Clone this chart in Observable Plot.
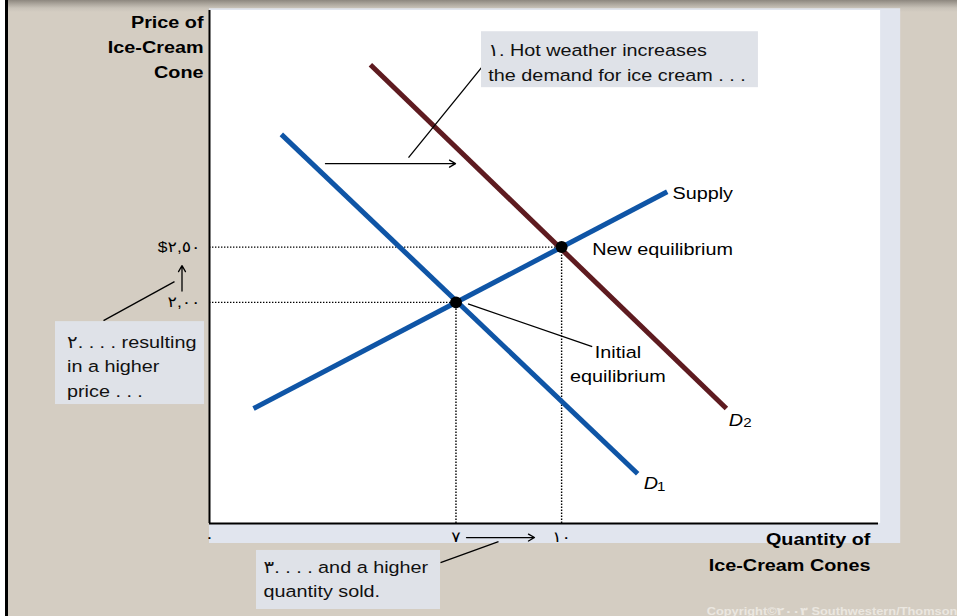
<!DOCTYPE html>
<html><head><meta charset="utf-8">
<script src="https://cdn.jsdelivr.net/npm/d3@7"></script>
<script src="https://cdn.jsdelivr.net/npm/@observablehq/plot@0.6"></script>
<style>
body{margin:0;background:#fff}
#wrap{position:relative;width:957px;height:616px;overflow:hidden;background:#fff}
#bg{position:absolute;left:5px;top:0;width:952px;height:616px;box-sizing:border-box;border-left:3px solid #000;
  background:linear-gradient(to bottom,#8d877f 0px,#aca69d 4px,#c8c2b8 8px,#d4cdc2 12px,#d4cdc2 100%)}
#chart{position:absolute;left:0;top:0}
</style></head><body>
<div id="wrap"><div id="bg"></div><div id="chart"></div></div>
<script>
// ---- data (quantity of cones, price in dollars) ----
const supplyQ = [1.25, 13.0];
const supplyP = [1.04, 3.0];
const demand1Q = [2.04, 12.16];
const demand1P = [3.52, 0.45];
const demand2Q = [4.57, 14.68];
const demand2P = [4.15, 1.04];
const equilibriumQ = [7, 10];
const equilibriumP = [2.0, 2.5];
const xTicks = [0, 7, 10];
const xTickLabels = ["٠", "٧", "١٠"];
const yTicks = [2.0, 2.5];
const yTickLabels = ["٢,٠٠", "$٢,٥٠"];
const curveNames = ["Supply", "D", "D"];
const curveSubs = ["", "1", "2"];

const rows = (qs, ps) => qs.map((q, i) => ({q, p: ps[i]}));
const supply = rows(supplyQ, supplyP);
const demand1 = rows(demand1Q, demand1P);
const demand2 = rows(demand2Q, demand2P);
const eq = rows(equilibriumQ, equilibriumP);

// annotations (in data units)
const boxes = [
  {x1: 7.725, x2: 15.59, y1: 3.942, y2: 4.448},
  {x1: -4.374, x2: -0.142, y1: 1.076, y2: 1.826},
  {x1: 1.335, x2: 6.561, y1: -0.778, y2: -0.244}
];
const boxTexts = [
  {x: 7.92, y: 4.005, text: "١. Hot weather increases\nthe demand for ice cream . . ."},
  {x: -4.047, y: 1.142, text: "٢. . . . resulting\nin a higher\nprice . . ."},
  {x: 1.534, y: -0.669, text: "٣. . . . and a higher\nquantity sold."}
];
const connectors = [
  {x1: 7.725, y1: 4.123, x2: 5.652, y2: 3.309},
  {x1: -3.011, y1: 1.835, x2: -0.994, y2: 2.188},
  {x1: 6.561, y1: -0.353, x2: 8.208, y2: -0.163},
  {x1: 7.342, y1: 1.986, x2: 10.869, y2: 1.600}
];
const arrows = [
  {x1: 3.294, y1: 3.255, x2: 6.987, y2: 3.255},
  {x1: -0.781, y1: 2.102, x2: -0.781, y2: 2.333},
  {x1: 7.299, y1: -0.127, x2: 9.230, y2: -0.127}
];

const BLUE = "#0f55a6", MAROON = "#5e1b20", BOXFILL = "#dfe2e8";
const FONT = "'Liberation Sans', Arial, 'DejaVu Sans', sans-serif";

const svg = Plot.plot({
  width: 957, height: 616,
  marginLeft: 209, marginRight: 79, marginTop: 10, marginBottom: 93,
  x: {domain: [0, 19]},
  y: {domain: [0, 4.64]},
  style: {background: "transparent", fontFamily: FONT, fontSize: "17px", color: "black", overflow: "visible"},
  marks: [
    Plot.rect([{}], {x1: 0, x2: 19.63, y1: -0.181, y2: 4.656, fill: "#e1e5ee"}),
    Plot.rect([{}], {x1: 0, x2: 19.06, y1: 0, y2: 4.64, fill: "white"}),
    Plot.ruleY(eq, {y: "p", x1: 0, x2: "q", stroke: "black", strokeWidth: 1.4, strokeDasharray: "1.4,1.6"}),
    Plot.ruleX(eq, {x: "q", y1: 0, y2: "p", stroke: "black", strokeWidth: 1.4, strokeDasharray: "1.4,1.6"}),
    Plot.ruleX([0], {y1: 0, y2: 4.64, stroke: "black", strokeWidth: 2}),
    Plot.ruleY([0], {x1: 0, x2: 19, stroke: "black", strokeWidth: 2}),
    Plot.line(demand1, {x: "q", y: "p", stroke: BLUE, strokeWidth: 5, strokeLinecap: "butt"}),
    Plot.line(demand2, {x: "q", y: "p", stroke: MAROON, strokeWidth: 5, strokeLinecap: "butt"}),
    Plot.line(supply, {x: "q", y: "p", stroke: BLUE, strokeWidth: 5, strokeLinecap: "butt"}),
    Plot.dot(eq, {x: "q", y: "p", r: 6, fill: "black"}),
    Plot.link(connectors, {x1: "x1", y1: "y1", x2: "x2", y2: "y2", stroke: "black", strokeWidth: 1.3}),
    Plot.arrow(arrows, {x1: "x1", y1: "y1", x2: "x2", y2: "y2", stroke: "black", strokeWidth: 1.3, headLength: 8}),
    Plot.rect(boxes, {x1: "x1", x2: "x2", y1: "y1", y2: "y2", fill: BOXFILL}),
    Plot.text(boxTexts, {x: "x", y: "y", text: "text", textAnchor: "start", lineAnchor: "bottom", lineHeight: 1.46, fontSize: 17, fill: "#111"}),
    // curve labels
    Plot.text([curveNames[0]], {x: 13.15, y: 2.939, text: d => d, textAnchor: "start", lineAnchor: "bottom", fontSize: 17}),
    Plot.text([curveNames[1], curveNames[2]], {x: [12.33, 14.75], y: [0.313, 0.886], text: d => d, textAnchor: "start", lineAnchor: "bottom", fontSize: 17, fontStyle: "italic"}),
    Plot.text([curveSubs[1], curveSubs[2]], {x: [12.71, 15.16], y: [0.298, 0.877], text: d => d, textAnchor: "start", lineAnchor: "bottom", fontSize: 13}),
    Plot.text(["New equilibrium"], {x: 10.87, y: 2.429, text: d => d, textAnchor: "start", lineAnchor: "bottom", fontSize: 17}),
    Plot.text(["Initial\nequilibrium"], {x: 11.60, y: 1.283, text: d => d, textAnchor: "middle", lineAnchor: "bottom", lineHeight: 1.41, fontSize: 17}),
    // axis titles
    Plot.text(["Price of\nIce-Cream\nCone"], {x: -0.17, y: 4.033, text: d => d, textAnchor: "end", lineAnchor: "bottom", lineHeight: 1.47, fontSize: 17, fontWeight: "bold"}),
    Plot.text(["Quantity of\nIce-Cream Cones"], {x: 18.77, y: -0.434, text: d => d, textAnchor: "end", lineAnchor: "bottom", lineHeight: 1.53, fontSize: 17, fontWeight: "bold"}),
    Plot.text(["Copyright©٢٠٠٣ Southwestern/Thomson Learning"], {x: 14.12, y: -0.832, text: d => d, textAnchor: "start", lineAnchor: "bottom", fontSize: 11, fontWeight: "bold", fill: "#ebe7e0"}),
    // axes
    Plot.axisY({ticks: yTicks, tickFormat: d => yTickLabels[yTicks.indexOf(d)], tickSize: 0, tickPadding: 9, dy: 5, fontSize: 15, label: null}),
    Plot.axisX({ticks: xTicks, tickFormat: d => xTickLabels[xTicks.indexOf(d)], tickSize: 0, tickPadding: 9, dy: 9, fontSize: 15, label: null})
  ]
});

// the reference slide is stretched horizontally (4:3 slide shown at 957x616)
svg.querySelectorAll("text").forEach(t => {
  let tr = t.getAttribute("transform") || "";
  const x = t.getAttribute("x"), y = t.getAttribute("y");
  if (x != null || y != null) {
    tr = `translate(${+x || 0},${+y || 0}) ` + tr;
    t.removeAttribute("x"); t.removeAttribute("y");
  }
  t.setAttribute("transform", tr + " scale(1.165,1)");
});

document.getElementById("chart").appendChild(svg);
</script>
</body></html>
